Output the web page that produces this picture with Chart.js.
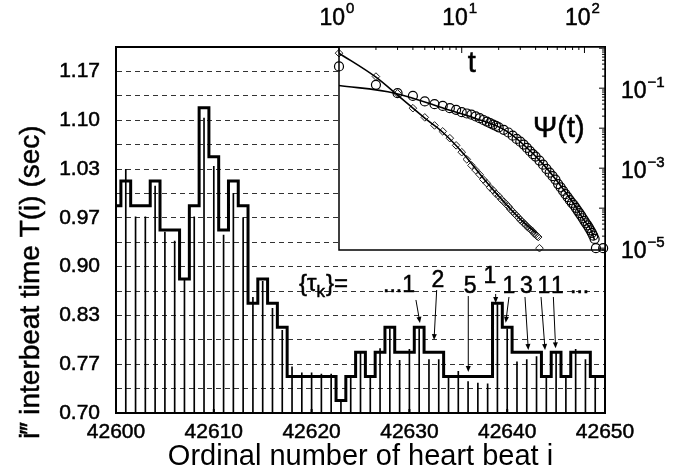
<!DOCTYPE html>
<html><head><meta charset="utf-8">
<script src="https://cdn.jsdelivr.net/npm/chart.js@4.4.0/dist/chart.umd.min.js"></script>
<style>
html,body{margin:0;padding:0;background:#fff;}
#wrap{position:relative;width:676px;height:476px;background:#fff;}
#wrap canvas{position:absolute;left:0;top:0;}
</style></head><body>
<div id="wrap"><canvas id="main" width="676" height="476"></canvas><canvas id="inset" width="676" height="476"></canvas></div>
<script>
// ---------- main panel data ----------
const beatIndex = [42600,42601,42602,42603,42604,42605,42606,42607,42608,42609,
  42610,42611,42612,42613,42614,42615,42616,42617,42618,42619,
  42620,42621,42622,42623,42624,42625,42626,42627,42628,42629,
  42630,42631,42632,42633,42634,42635,42636,42637,42638,42639,
  42640,42641,42642,42643,42644,42645,42646,42647,42648,42649,42650];
// quantized interbeat level (bold step curve)
const stepValues = [0.983,1.017,0.983,0.983,1.017,0.950,0.950,0.883,0.983,1.117,
  1.050,0.950,1.017,0.983,0.850,0.883,0.850,0.817,0.750,0.750,
  0.750,0.750,0.750,0.717,0.750,0.783,0.750,0.783,0.817,0.783,
  0.783,0.817,0.783,0.783,0.750,0.750,0.750,0.750,0.750,0.850,
  0.817,0.783,0.783,0.783,0.750,0.783,0.750,0.783,0.783,0.750,0.750];
// measured interbeat time (thin impulses)
const impulseValues = [0.983,1.033,0.968,0.968,1.010,0.947,0.935,0.883,0.968,1.103,
  1.037,0.943,1.000,0.967,0.858,0.880,0.843,0.813,0.763,0.755,
  0.755,0.753,0.753,0.715,0.748,0.782,0.748,0.788,0.815,0.772,
  0.787,0.815,0.773,0.773,0.748,0.757,0.743,0.741,0.740,0.848,
  0.815,0.770,0.773,0.777,0.748,0.782,0.748,0.787,0.773,0.748,0.748];
const xTickValues = [42600,42610,42620,42630,42640,42650];
const xTickLabels = ['42600','42610','42620','42630','42640','42650'];
const yTickLabels = ['0.70','','0.77','','0.83','','0.90','','0.97','','1.03','','1.10','','1.17',''];
const yGridStep = 1/30;

// {tau_k} annotation
const tauTexts = ['...1','2','5','1','1','3','1','1','...'];
const tauX = [42627.30,42632.92,42636.20,42638.24,42640.18,42641.97,42643.76,42645.14,42646.42];
const tauY = [0.8653,0.8721,0.8639,0.8776,0.8639,0.8639,0.8639,0.8639,0.8639];
const tauAlign = ['left','center','center','center','center','center','center','center','left'];
const arrowFromX = [42630.67,42632.79,42636.02,42638.82,42640.18,42641.82,42643.46,42644.72];
const arrowFromY = [0.8544,0.8680,0.8598,0.8626,0.8585,0.8585,0.8585,0.8585];
const arrowToX   = [42631.08,42632.52,42636.02,42638.82,42639.85,42642.16,42643.87,42644.95];
const arrowToY   = [0.8230,0.7997,0.7560,0.8503,0.8234,0.7861,0.7861,0.7884];

// ---------- inset data ----------
const tDiamond = [1,2,3,4,5,6,7,8,9,10,11,12,13,14,15,16,17,18,19,20,21,22,23,24,25,26,27,28,29,30,31,32,33,34,35,36,37,38,39,40,41,42,43];
const psiDiamond = [0.750,0.195,0.0741,0.0316,0.0186,0.0117,0.00832,0.00562,0.00372,0.00251,
  0.00166,0.00117,8.9e-4,6.9e-4,5.2e-4,4.2e-4,3.3e-4,2.8e-4,2.3e-4,2.0e-4,
  1.66e-4,1.45e-4,1.26e-4,1.10e-4,9.3e-5,8.3e-5,7.2e-5,6.5e-5,5.8e-5,5.1e-5,
  4.7e-5,4.2e-5,3.9e-5,3.5e-5,3.2e-5,3.0e-5,2.8e-5,2.6e-5,2.3e-5,2.2e-5,2.0e-5,1.9e-5,1.0e-5];
const tCircle = [1,2,3,4,5,6,7,8,9,10,11,12,13,14,15,16,17,18,19,20,
  22,24,26,28,30,32,34,36,38,40,
  43,46,49,52,55,58,61,64,67,70,73,76,79,82,85,88,91,94,97,100,103,106,109,112,115,118,121,124,142];
const psiCircle = [0.349,0.121,0.075,0.064,0.0466,0.0398,0.036,0.0316,0.0287,0.0251,
  0.0233,0.0218,0.0197,0.0178,0.0160,0.0146,0.0133,0.0123,0.0114,0.0105,
  0.0091,0.0078,0.0065,0.0054,0.0046,0.0039,0.0032,0.00266,0.00224,0.00195,
  0.00155,0.00122,9.6e-4,7.7e-4,6.3e-4,5.2e-4,4.0e-4,3.3e-4,2.7e-4,2.24e-4,
  1.88e-4,1.58e-4,1.35e-4,1.2e-4,1.02e-4,8.7e-5,7.5e-5,6.5e-5,5.6e-5,4.8e-5,
  4.2e-5,3.7e-5,3.2e-5,2.8e-5,2.4e-5,2.05e-5,1.7e-5,1.0e-5,1.0e-5];
const tFitD = [1,2,3,5,7,10,15,20,30,40.6];
const psiFitD = [0.75,0.188,0.0668,0.0178,0.0079,0.00257,5.6e-4,2.0e-4,5.3e-5,2.37e-5];
const tFitC = [1,2.85,8,12.8,23.2,43.6,60,82,100,112,121];
const psiFitC = [0.117,0.075,0.028,0.0178,0.0084,0.0015,4.7e-4,1.26e-4,4.8e-5,3.0e-5,1.6e-5];
const insetXLabelVals = [1,10,100];
const insetXLabelExp = ['0','1','2'];
const insetYLabelVals = [1e-1,1e-3,1e-5];
const insetYLabelExp = ['\u22121','\u22123','\u22125'];

const FONT = "'Liberation Sans', Arial, Helvetica, sans-serif";
Chart.defaults.font.family = FONT;
Chart.defaults.color = '#000';

function heavyText(ctx, s, x, y) {
  ctx.lineWidth = 0.5; ctx.strokeStyle = '#000';
  ctx.strokeText(s, x, y); ctx.fillText(s, x, y);
}

const mainPlugin = {
  id: 'mainDecor',
  afterDraw(chart) {
    const ctx = chart.ctx, a = chart.chartArea;
    const xs = chart.scales.x, ys = chart.scales.y;
    ctx.save();
    // frame
    ctx.strokeStyle = '#000'; ctx.lineWidth = 2;
    ctx.strokeRect(a.left, a.top, a.right - a.left, a.bottom - a.top);
    // inward ticks on x axis
    xTickValues.forEach(v => {
      const px = xs.getPixelForValue(v);
      ctx.beginPath(); ctx.moveTo(px, a.bottom); ctx.lineTo(px, a.bottom - 4); ctx.stroke();
    });
    // tau annotation
    ctx.fillStyle = '#000';
    ctx.textBaseline = 'alphabetic';
    const tx = xs.getPixelForValue(42618.71), ty = ys.getPixelForValue(0.8667);
    ctx.font = '24px ' + FONT; ctx.textAlign = 'left';
    let cx = tx;
    heavyText(ctx, '{\u03c4', cx, ty); cx += ctx.measureText('{\u03c4').width;
    ctx.font = '17px ' + FONT; heavyText(ctx, 'k', cx, ty + 6); cx += ctx.measureText('k').width + 1;
    ctx.font = '24px ' + FONT; heavyText(ctx, '}=', cx, ty);
    ctx.font = '23px ' + FONT;
    tauTexts.forEach((t, i) => {
      ctx.textAlign = tauAlign[i];
      heavyText(ctx, t, xs.getPixelForValue(tauX[i]), ys.getPixelForValue(tauY[i]));
    });
    // arrows
    ctx.lineWidth = 1; ctx.strokeStyle = '#000';
    arrowFromX.forEach((v, i) => {
      const x1 = xs.getPixelForValue(v), y1 = ys.getPixelForValue(arrowFromY[i]);
      const x2 = xs.getPixelForValue(arrowToX[i]), y2 = ys.getPixelForValue(arrowToY[i]);
      const ang = Math.atan2(y2 - y1, x2 - x1);
      ctx.beginPath(); ctx.moveTo(x1, y1); ctx.lineTo(x2 - 5 * Math.cos(ang), y2 - 5 * Math.sin(ang)); ctx.stroke();
      ctx.beginPath();
      ctx.moveTo(x2, y2);
      ctx.lineTo(x2 - 6 * Math.cos(ang) + 2.5 * Math.sin(ang), y2 - 6 * Math.sin(ang) - 2.5 * Math.cos(ang));
      ctx.lineTo(x2 - 6 * Math.cos(ang) - 2.5 * Math.sin(ang), y2 - 6 * Math.sin(ang) + 2.5 * Math.cos(ang));
      ctx.closePath(); ctx.fill();
    });
    // y title
    ctx.save();
    ctx.translate(31, 282); ctx.rotate(-Math.PI / 2);
    ctx.font = '28px ' + FONT; ctx.textAlign = 'center'; ctx.textBaseline = 'middle';
    heavyText(ctx, 'i\u2034 interbeat time T(i) (sec)', 0, 0);
    ctx.restore();
    ctx.restore();
  }
};

new Chart(document.getElementById('main'), {
  type: 'line',
  data: {
    datasets: [
      { type: 'line', label: 'quantized T(i)', data: beatIndex.map((b, i) => ({x: b, y: stepValues[i]})),
        stepped: 'middle', borderColor: '#000', borderWidth: 3, pointRadius: 0, fill: false, order: 0 },
      { type: 'bar', label: 'T(i)', data: beatIndex.map((b, i) => ({x: b, y: impulseValues[i]})),
        backgroundColor: '#000', borderWidth: 0, barThickness: 1, order: 1 }
    ]
  },
  options: {
    responsive: false, animation: false, devicePixelRatio: 1,
    layout: { padding: { left: 0, top: 47, right: 71, bottom: 0 } },
    plugins: { legend: { display: false }, tooltip: { enabled: false } },
    scales: {
      x: {
        type: 'linear', min: 42600, max: 42650, offset: false, position: 'bottom',
        afterBuildTicks: s => { s.ticks = xTickValues.map(v => ({value: v})); },
        ticks: { callback: (v, i) => xTickLabels[i], font: { size: 21 }, color: '#000', padding: 7, maxRotation: 0, autoSkip: false,
                 textStrokeColor: '#000', textStrokeWidth: 0.5 },
        grid: { display: false, drawTicks: false },
        border: { display: true, color: '#000', width: 2 },
        title: { display: true, text: 'Ordinal number of heart beat i', font: { size: 29 }, color: '#000', padding: { top: 0, bottom: 2 } },
        afterFit: s => { s.height = 63; }
      },
      y: {
        type: 'linear', min: 0.70, max: 1.20,
        afterBuildTicks: s => { s.ticks = yTickLabels.map((l, i) => ({value: 0.70 + i * yGridStep})); },
        ticks: { callback: (v, i) => yTickLabels[i], font: { size: 21 }, color: '#000', padding: 16, autoSkip: false,
                 textStrokeColor: '#000', textStrokeWidth: 0.5 },
        grid: { color: '#333', lineWidth: 1, drawTicks: false },
        border: { display: true, color: '#000', width: 2, dash: [5, 4] },
        afterFit: s => { s.width = 116; }
      }
    }
  },
  plugins: [mainPlugin]
});

// ---------- inset ----------
function drawPow(ctx, x, yBase, exp, align, yExpBase) {
  ctx.font = '23px ' + FONT;
  const w1 = ctx.measureText('10').width;
  ctx.font = '15px ' + FONT;
  const w2 = ctx.measureText(exp).width;
  let left = align === 'center' ? x - (w1 + w2 + 1) / 2 : x;
  ctx.textAlign = 'left'; ctx.textBaseline = 'alphabetic';
  ctx.font = '23px ' + FONT; heavyText(ctx, '10', left, yBase);
  ctx.font = '15px ' + FONT; heavyText(ctx, exp, left + w1 + 1, yExpBase);
}

const insetPlugin = {
  id: 'insetDecor',
  beforeDatasetsDraw(chart) {
    const ctx = chart.ctx, a = chart.chartArea;
    ctx.save(); ctx.fillStyle = '#fff';
    ctx.fillRect(a.left, a.top, a.right - a.left, a.bottom - a.top);
    ctx.restore();
  },
  afterDraw(chart) {
    const ctx = chart.ctx, a = chart.chartArea;
    const xs = chart.scales.x, ys = chart.scales.y;
    ctx.save();
    ctx.strokeStyle = '#000'; ctx.lineWidth = 1.5;
    ctx.strokeRect(a.left, a.top, a.right - a.left, a.bottom - a.top);
    ctx.lineWidth = 1;
    // top ticks (inward)
    for (let d = 1; d <= 100; d *= 10) {
      for (let m = 1; m <= 9; m++) {
        const v = m * d; if (v > 147) break;
        const px = xs.getPixelForValue(v);
        const len = m === 1 ? 6 : 3;
        ctx.beginPath(); ctx.moveTo(px, a.top); ctx.lineTo(px, a.top + len); ctx.stroke();
      }
    }
    // right ticks (inward)
    for (let e = -6; e <= 0; e++) {
      for (let m = 1; m <= 9; m++) {
        const v = m * Math.pow(10, e); if (v < 9e-6 || v > 1.07) continue;
        const py = ys.getPixelForValue(v);
        const len = m === 1 ? 6 : 3;
        ctx.beginPath(); ctx.moveTo(a.right, py); ctx.lineTo(a.right - len, py); ctx.stroke();
      }
    }
    ctx.fillStyle = '#000';
    insetXLabelVals.forEach((v, i) => {
      const px = xs.getPixelForValue(v);
      drawPow(ctx, px - 2, 25, insetXLabelExp[i], 'center', 13);
    });
    insetYLabelVals.forEach((v, i) => {
      const py = ys.getPixelForValue(v);
      drawPow(ctx, a.right + 16, py + 10, insetYLabelExp[i], 'left', py - 1);
    });
    ctx.font = '29px ' + FONT; ctx.textAlign = 'center'; ctx.textBaseline = 'alphabetic';
    heavyText(ctx, 't', xs.getPixelForValue(12.1), ys.getPixelForValue(0.254));
    ctx.textAlign = 'left';
    heavyText(ctx, '\u03a8(t)', xs.getPixelForValue(38.1), ys.getPixelForValue(6.0e-3));
    ctx.restore();
  }
};

new Chart(document.getElementById('inset'), {
  type: 'scatter',
  data: {
    datasets: [
      { label: 'fit power law', type: 'line', data: tFitD.map((t, i) => ({x: t, y: psiFitD[i]})),
        borderColor: '#000', borderWidth: 1.6, pointRadius: 0, showLine: true, fill: false,
        cubicInterpolationMode: 'monotone', order: 0 },
      { label: 'fit stretched exp', type: 'line', data: tFitC.map((t, i) => ({x: t, y: psiFitC[i]})),
        borderColor: '#000', borderWidth: 1.6, pointRadius: 0, showLine: true, fill: false,
        cubicInterpolationMode: 'monotone', order: 0 },
      { label: 'diamonds', data: tDiamond.map((t, i) => ({x: t, y: psiDiamond[i]})),
        pointStyle: 'rectRot', pointRadius: 3.8, borderColor: '#222', borderWidth: 1,
        backgroundColor: 'rgba(255,255,255,0)', showLine: false, clip: false, order: 1 },
      { label: 'circles', data: tCircle.map((t, i) => ({x: t, y: psiCircle[i]})),
        pointStyle: 'circle', pointRadius: 4.5, borderColor: '#000', borderWidth: 1.2,
        backgroundColor: 'rgba(255,255,255,0)', showLine: false, clip: false, order: 1 }
    ]
  },
  options: {
    responsive: false, animation: false, devicePixelRatio: 1,
    layout: { padding: { left: 339, top: 47, right: 71, bottom: 226 } },
    plugins: { legend: { display: false }, tooltip: { enabled: false } },
    scales: {
      x: { type: 'logarithmic', min: 1, max: 147, display: false },
      y: { type: 'logarithmic', min: 9e-6, max: 1.07, display: false }
    }
  },
  plugins: [insetPlugin]
});
</script>
</body></html>
